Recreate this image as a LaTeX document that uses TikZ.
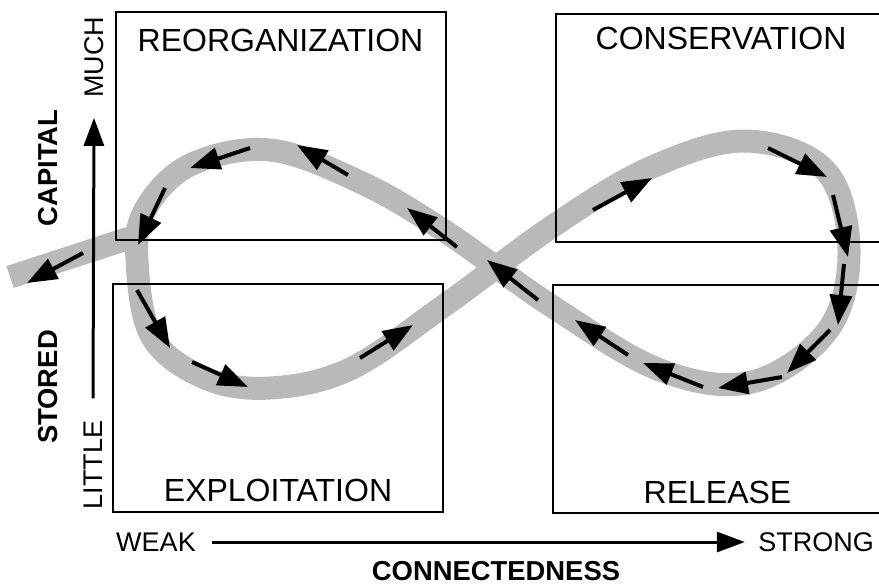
\documentclass[tikz,border=0pt]{standalone}
\usepackage{fontspec}
\setmainfont{Liberation Sans}
\usepackage{tikz}
\usetikzlibrary{arrows.meta,positioning}
\usepackage{xcolor}
\definecolor{bandcol}{RGB}{185,185,185}
\definecolor{inkcol}{RGB}{0,0,0}
\tikzset{
  % phase box (one quarter of the cycle)
  phasebox/.style={rectangle, draw=inkcol, line width=1pt, minimum width=165pt, minimum height=114pt,
                   inner sep=0pt},
  % phase name
  phaselabel/.style={font=\fontsize{16}{19}\selectfont, inner sep=0pt},
  % axis end label
  axislabel/.style={font=\fontsize{13.5}{16}\selectfont, inner sep=0pt},
  % axis title
  axistitle/.style={font=\fontsize{13.7}{16}\selectfont\bfseries, inner sep=0pt},
  % axis arrow
  axisarrow/.style={-{Triangle[length=14pt,width=10pt]}, line width=1.5pt, inkcol},
  % grey band of the cycle
  band/.style={draw=bandcol, line width=11.5pt},
  % flow arrow on the band
  flow/.style={-{Triangle[length=15pt,width=11pt]}, line width=2pt, inkcol},
}
\begin{document}
\begin{tikzpicture}[x=0.5pt, y=-0.5pt]
  \useasboundingbox (0,0) rectangle (879,584);
  % the cycle
  \draw[band] plot[smooth cycle, tension=0.6] coordinates {
    (137,260) (152,337) (205,378) (270,388) (350,369) (445,305) (553,226) (650,168)
    (745,141) (825,170) (849,250) (828,330) (752,382) (660,370) (553,307) (443,230)
    (360,182) (270,150) (190,165) (145,210)};
  % exit to the left
  \draw[band, line cap=butt] (145,233) -- (10,277);

  % boxes
  \node[phasebox] (reorg) at (280.5,126) {};
  \node[phasebox] (cons) at (721,128) {};
  \node[phasebox] (expl) at (278,398) {};
  \node[phasebox] (rel) at (717.5,399) {};
  \node[phaselabel, below=9pt of reorg.north] (reorglab) {REORGANIZATION};
  \node[phaselabel, below=7pt of cons.north] (conslab) {CONSERVATION};
  \node[phaselabel, above=5.5pt of expl.south] (expllab) {EXPLOITATION};
  \node[phaselabel, above=5pt of rel.south] (rellab) {RELEASE};

  % flow along the cycle
  \draw[flow] (250,148) -- (190,168);
  \draw[flow] (348,175) -- (297,145);
  \draw[flow] (165,188) -- (138,245);
  \draw[flow] (83,253) -- (27,283);
  \draw[flow] (457,247) -- (407,208);
  \draw[flow] (538,300) -- (487,260);
  \draw[flow] (360,358) -- (413,325);
  \draw[flow] (137,290) -- (170,348);
  \draw[flow] (192,362) -- (248,387);
  \draw[flow] (593,210) -- (652,178);
  \draw[flow] (768,148) -- (827,177);
  \draw[flow] (833,195) -- (848,257);
  \draw[flow] (844,264) -- (838,325);
  \draw[flow] (830,330) -- (787,373);
  \draw[flow] (782,377) -- (718,388);
  \draw[flow] (703,387) -- (643,363);
  \draw[flow] (628,355) -- (575,320);

  % axes
  \node[axistitle, rotate=90] (capital) at (48,168) {CAPITAL};
  \node[axistitle, rotate=90] (stored) at (48,387) {STORED};
  \node[axislabel, rotate=90] (much) at (94,57) {MUCH};
  \node[axislabel, rotate=90] (little) at (93,465) {LITTLE};
  \node[axislabel] (weak) at (156,542) {WEAK};
  \node[axislabel] (strong) at (816,542) {STRONG};
  \node[axistitle] (connect) at (496,571) {CONNECTEDNESS};
  \draw[axisarrow] ([yshift=11pt]little.east) -- ([yshift=-10pt]much.west);
  \draw[axisarrow] ([xshift=8pt]weak.east) -- ([xshift=-6.5pt]strong.west);
\end{tikzpicture}
\end{document}
